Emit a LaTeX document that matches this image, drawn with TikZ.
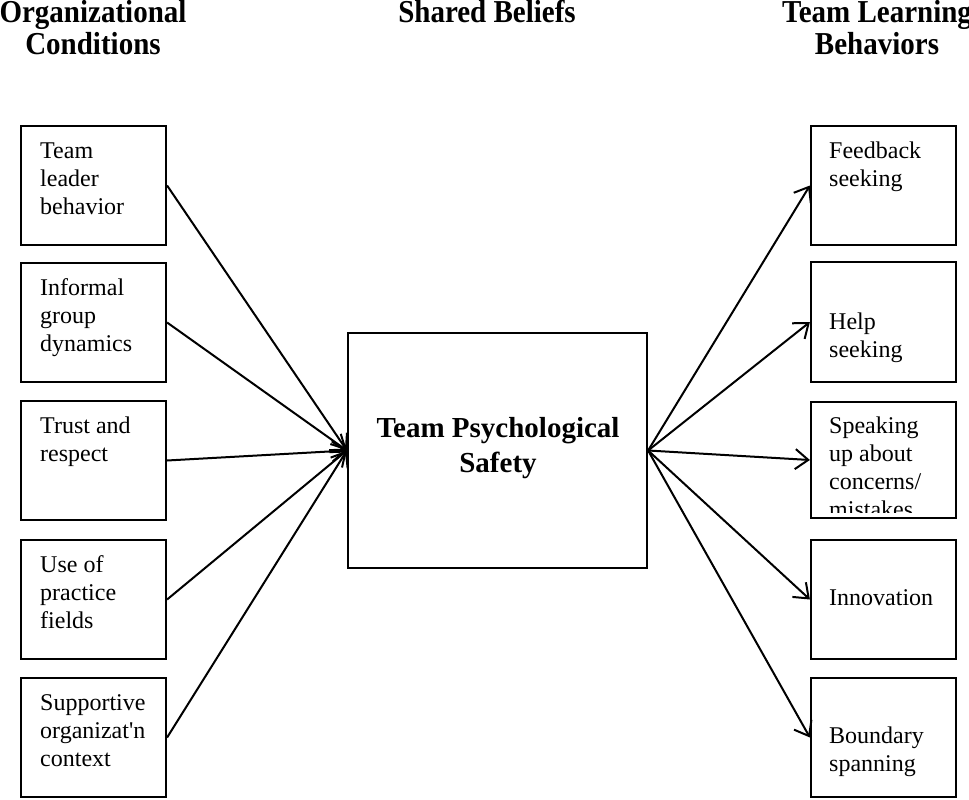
\documentclass[tikz,border=0pt]{standalone}
\usepackage{fontspec}
\usepackage{graphicx}
\setmainfont{Liberation Serif}
\newfontfamily\plainserif{Liberation Serif}
\usetikzlibrary{arrows.meta}
\newcommand{\tallhead}[1]{\scalebox{1}[1.1]{#1}}
\tikzset{
  box/.style={draw=black, line width=2.2pt, minimum width=145pt, minimum height=119pt, inner sep=0pt},
  bigbox/.style={draw=black, line width=2.2pt, minimum width=299pt, minimum height=235pt, inner sep=0pt},
  body/.style={anchor=north west, align=left, inner sep=0pt, font=\fontsize{24}{28}\selectfont},
  head/.style={anchor=north, align=center, inner sep=0pt, font=\fontsize{29}{32}\selectfont\bfseries},
  ctext/.style={anchor=north, align=center, inner sep=0pt, font=\fontsize{29}{35}\selectfont\bfseries},
  arr/.style={line width=2pt, -{Straight Barb[length=13pt,width=20pt,line width=2pt]}}
}
\begin{document}
\begin{tikzpicture}[x=1pt,y=-1pt]
\useasboundingbox (0,0) rectangle (969,800);
% headers
\node[head] (h1) at (93,-0.4) {\strut\tallhead{Organizational}\\\tallhead{Conditions}};
\node[head] (h2) at (487,-0.4) {\strut\tallhead{Shared Beliefs}};
\node[head] (h3) at (877,-0.4) {\strut\tallhead{Team Learning}\\\tallhead{Behaviors}};
% left boxes
\node[box] (l1) at (93.5,185.5) {};
\node[box] (l2) at (93.5,322.5) {};
\node[box] (l3) at (93.5,460.5) {};
\node[box] (l4) at (93.5,599.5) {};
\node[box] (l5) at (93.5,737.5) {};
\node[body] (lt1) at (40,138.4) {\strut Team\\leader\\behavior};
\node[body] (lt2) at (40,275.4) {\strut Informal\\group\\dynamics};
\node[body] (lt3) at (40,413.4) {\strut Trust and\\respect};
\node[body] (lt4) at (40,552.4) {\strut Use of\\practice\\fields};
\node[body] (lt5) at (40,690.4) {\strut Supportive\\organizat{\plainserif '}n\\context};
% center
\node[bigbox] (c) at (497.5,450.5) {};
\node[ctext] (ct) at (498,412.5) {\strut Team Psychological\\Safety};
% right boxes
\node[box] (r1) at (883.5,185.5) {};
\node[box, minimum height=120pt] (r2) at (883.5,322) {};
\node[box, minimum height=116pt] (r3) at (883.5,460) {};
\node[box] (r4) at (883.5,599.5) {};
\node[box] (r5) at (883.5,737.5) {};
\node[body] (rt1) at (829,138.4) {\strut Feedback\\seeking};
\node[body] (rt2) at (829,309.4) {\strut Help\\seeking};
\begin{scope}
\clip (812,403) rectangle (955,512);
\node[body] (rt3) at (829,413.4) {\strut Speaking\\up about\\concerns/\\mistakes};
\end{scope}
\node[body] (rt4) at (829,585.4) {\strut Innovation};
\node[body] (rt5) at (829,723.4) {\strut Boundary\\spanning};
% arrows
\foreach \i in {1,...,5} {
  \draw[arr] (l\i.east) -- (c.west);
  \draw[arr] (c.east) -- (r\i.west);
}
\end{tikzpicture}
\end{document}
